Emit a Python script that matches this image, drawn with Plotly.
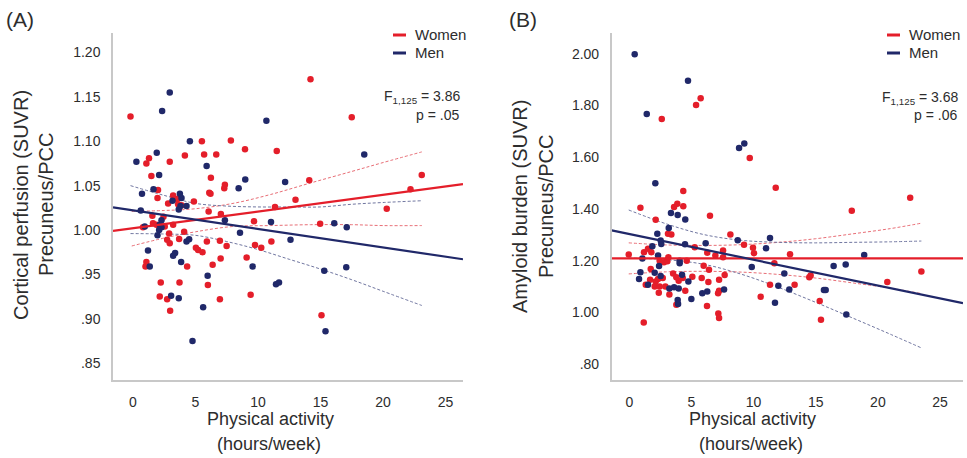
import plotly.graph_objects as go

W, H = 967, 458
RED = "rgb(228,30,42)"
NAVY = "rgb(32,40,105)"
RED_CI = "rgb(232,110,118)"
NAVY_CI = "rgb(112,118,160)"
FONT = "Arial, Liberation Sans, sans-serif"
TXT = "rgb(45,45,45)"

# ---------------- Panel A: Cortical perfusion ----------------
a_women_x = [-0.2, 5.51, 7.83, 8.96, 11.5, 1.28, 1.07, 2.94, 4.15, 5.69, 6.66, 1.47, 6.23, 7.35, 7.3,
             2.0, 1.96, 3.21, 3.53, 2.81, 3.61, 3.88, 4.87, 6.1, 6.2, 6.05, 7.03, 1.55, 2.44, 9.68, 11.36,
             1.6, 1.88, 2.54, 0.8, 3.21, 2.89, 4.09, 3.69, 2.73, 2.94, 5.91, 6.95, 7.49, 5.03, 5.21,
             5.56, 9.76, 10.26, 11.07, 9.09, 7.01, 6.37, 4.33, 1.07, 1.0, 5.99, 2.22, 3.72, 2.14, 2.73,
             6.95, 9.41, 2.97, 14.2, 17.5, 23.1, 14.1, 22.2, 13.0, 20.3, 14.97, 15.08]
a_women_y = [1.128, 1.100, 1.101, 1.091, 1.089, 1.081, 1.075, 1.077, 1.084, 1.085, 1.085, 1.061, 1.059, 1.051, 1.047,
             1.045, 1.036, 1.039, 1.035, 1.030, 1.029, 1.028, 1.032, 1.042, 1.041, 1.021, 1.018, 1.016, 1.015, 1.010, 1.026,
             1.0075, 1.006, 1.004, 1.003, 1.006, 0.996, 0.998, 0.990, 0.989, 0.985, 0.987, 0.988, 0.982, 0.980, 0.9775,
             0.975, 0.983, 0.980, 0.987, 0.969, 0.968, 0.961, 0.959, 0.964, 0.959, 0.938, 0.941, 0.941, 0.925, 0.922,
             0.922, 0.927, 0.909, 1.170, 1.127, 1.062, 1.056, 1.046, 1.034, 1.024, 1.007, 0.904]
a_men_x = [2.94, 2.33, 10.67, 4.55, 1.90, 0.27, 5.89, 2.09, 8.98, 8.45, 1.64, 0.72, 3.75, 3.88, 3.16, 3.8,
           4.28, 3.66, 0.62, 2.28, 11.04, 7.35, 2.14, 2.28, 2.09, 0.94, 1.96, 4.49, 4.28, 8.56, 1.2, 3.37,
           3.21, 3.85, 1.34, 9.57, 5.97, 11.44, 11.68, 3.05, 3.66, 5.61, 4.76, 18.5, 12.17, 16.1, 17.1,
           12.6, 15.3, 17.06, 15.4]
a_men_y = [1.155, 1.134, 1.123, 1.100, 1.087, 1.077, 1.072, 1.062, 1.057, 1.047, 1.046, 1.041, 1.041, 1.036, 1.033, 1.027,
           1.027, 1.023, 1.022, 1.011, 1.009, 1.011, 1.006, 1.003, 1.000, 1.004, 0.994, 0.9895, 0.987, 0.997, 0.977, 0.974,
           0.971, 0.964, 0.959, 0.959, 0.9485, 0.939, 0.941, 0.926, 0.923, 0.913, 0.875, 1.085, 1.054, 1.0075, 1.003,
           0.989, 0.954, 0.958, 0.886]
a_fit_women = [1.002, 0.00188]   # intercept, slope
a_fit_men = [1.0222, -0.00209]
a_ci_women_x = [-0.1, 2.5, 5, 8, 11, 14.2, 17.5, 20, 23.1]
a_ci_women_hi = [1.021, 1.022, 1.024, 1.030, 1.040, 1.053, 1.066, 1.076, 1.088]
a_ci_women_lo = [0.982, 0.991, 0.998, 1.004, 1.005, 1.006, 1.006, 1.005, 1.005]
a_ci_men_x = [-0.2, 2.5, 5, 7.5, 10, 12.5, 15, 17.5, 20, 23.1]
a_ci_men_hi = [1.050, 1.039, 1.030, 1.027, 1.026, 1.026, 1.026, 1.029, 1.031, 1.033]
a_ci_men_lo = [0.996, 0.9955, 0.994, 0.987, 0.978, 0.967, 0.956, 0.944, 0.931, 0.915]
a_yticks = [1.20, 1.15, 1.10, 1.05, 1.00, 0.95, 0.90, 0.85]
a_yticktext = ["1.20", "1.15", "1.10", "1.05", "1.00", ".95", ".90", ".85"]
a_xrange = [-1.6, 26.4]
a_yrange = [0.831, 1.222]

# ---------------- Panel B: Amyloid burden ----------------
b_women_x = [5.74, 5.37, 2.61, 9.69, 4.34, 11.78, 22.6, 17.9, 6.49, 0.89, 2.12, 3.6, 3.86, 4.34, 3.11, 3.38,
             8.13, 5.26, 6.27, 6.92, 7.54, 7.54, 9.23, 9.95, 10.03, -0.05, 1.18, 1.5, 1.77, 2.44, 2.79, 3.06,
             3.14, 4.62, 5.98, 6.41, 1.72, 3.52, 3.78, 3.97, 4.3, 5.07, 5.82, 7.67, 7.22, 6.36, 1.67, 2.12,
             2.31, 2.69, 1.32, 2.04, 2.44, 2.9, 2.37, 3.22, 4.5, 7.22, 7.14, 10.57, 3.78, 6.25, 7.16, 7.22,
             1.16, 12.93, 11.67, 23.5, 14.48, 14.59, 20.76, 13.3, 11.32, 15.32, 15.42]
b_women_y = [1.828, 1.802, 1.748, 1.597, 1.469, 1.482, 1.443, 1.393, 1.374, 1.405, 1.358, 1.408, 1.420, 1.410, 1.304, 1.301,
             1.301, 1.252, 1.231, 1.220, 1.239, 1.213, 1.262, 1.250, 1.229, 1.224, 1.233, 1.246, 1.233, 1.200, 1.194, 1.198,
             1.213, 1.200, 1.181, 1.165, 1.168, 1.151, 1.136, 1.123, 1.133, 1.138, 1.133, 1.145, 1.126, 1.118, 1.126, 1.120,
             1.129, 1.133, 1.107, 1.100, 1.100, 1.100, 1.076, 1.069, 1.084, 1.084, 1.074, 1.061, 1.030, 1.025, 0.996, 0.979,
             0.961, 1.225, 1.190, 1.158, 1.136, 1.143, 1.118, 1.107, 1.107, 1.044, 0.972]
b_men_x = [0.43, 4.72, 1.40, 9.25, 8.83, 2.09, 3.35, 3.89, 4.5, 3.17, 2.25, 8.72, 11.32, 2.52, 2.57, 4.48,
           6.14, 11.0, 1.05, 1.85, 2.31, 4.05, 4.05, 2.39, 9.85, 0.89, 2.04, 4.24, 2.52, 4.75, 0.78, 1.5,
           3.22, 3.6, 3.97, 6.27, 5.87, 7.62, 4.99, 3.89, 3.92, 11.72, 18.9, 16.44, 17.41, 12.47, 11.99,
           12.87, 15.66, 15.8, 17.46]
b_men_y = [1.998, 1.895, 1.767, 1.653, 1.636, 1.499, 1.384, 1.377, 1.359, 1.326, 1.304, 1.279, 1.288, 1.278, 1.265, 1.264,
           1.267, 1.248, 1.209, 1.256, 1.220, 1.200, 1.190, 1.180, 1.176, 1.155, 1.153, 1.146, 1.141, 1.120, 1.129, 1.107,
           1.093, 1.097, 1.093, 1.081, 1.074, 1.089, 1.052, 1.048, 1.033, 1.038, 1.222, 1.180, 1.185, 1.151, 1.103,
           1.089, 1.087, 1.087, 0.992]
b_fit_women = [1.209, 0.0]
b_fit_men = [1.303, -0.00994]
b_ci_women_x = [-0.05, 3, 6, 9, 12, 15, 18, 21, 23.5]
b_ci_women_hi = [1.269, 1.261, 1.259, 1.262, 1.271, 1.285, 1.304, 1.324, 1.345]
b_ci_women_lo = [1.149, 1.157, 1.159, 1.156, 1.147, 1.133, 1.114, 1.094, 1.073]
b_ci_men_x = [-0.05, 3, 6, 9, 12, 15, 18, 21, 23.5]
b_ci_men_hi = [1.396, 1.342, 1.301, 1.279, 1.271, 1.269, 1.271, 1.273, 1.276]
b_ci_men_lo = [1.210, 1.204, 1.186, 1.148, 1.097, 1.039, 0.978, 0.916, 0.863]
b_yticks = [2.00, 1.80, 1.60, 1.40, 1.20, 1.00, 0.80]
b_yticktext = ["2.00", "1.80", "1.60", "1.40", "1.20", "1.00", ".80"]
b_xrange = [-1.42, 26.85]
b_yrange = [0.739, 2.08]

xticks = [0, 5, 10, 15, 20, 25]
xticktext = ["0", "5", "10", "15", "20", "25"]

fig = go.Figure()


def add_panel(xa, ya, wx, wy, mx, my, fw, fm, ciw, cim, xr):
    xref, yref = xa, ya
    # CI dashed lines
    for cx, hi, lo, col in [(ciw[0], ciw[1], ciw[2], RED_CI), (cim[0], cim[1], cim[2], NAVY_CI)]:
        for arr in (hi, lo):
            fig.add_trace(go.Scatter(x=cx, y=arr, mode="lines", xaxis=xref, yaxis=yref,
                                     line=dict(color=col, width=1, dash="3px,2px", shape="spline"),
                                     showlegend=False, hoverinfo="skip"))
    # points
    fig.add_trace(go.Scatter(x=wx, y=wy, mode="markers", xaxis=xref, yaxis=yref,
                             marker=dict(color=RED, size=6.5), showlegend=False))
    fig.add_trace(go.Scatter(x=mx, y=my, mode="markers", xaxis=xref, yaxis=yref,
                             marker=dict(color=NAVY, size=6.5), showlegend=False))
    # fit lines across the axis range
    for f, col in [(fw, RED), (fm, NAVY)]:
        fig.add_trace(go.Scatter(x=xr, y=[f[0] + f[1] * v for v in xr], mode="lines",
                                 xaxis=xref, yaxis=yref, line=dict(color=col, width=2.2),
                                 showlegend=False, hoverinfo="skip"))


add_panel("x", "y", a_women_x, a_women_y, a_men_x, a_men_y, a_fit_women, a_fit_men,
          (a_ci_women_x, a_ci_women_hi, a_ci_women_lo), (a_ci_men_x, a_ci_men_hi, a_ci_men_lo), a_xrange)
add_panel("x2", "y2", b_women_x, b_women_y, b_men_x, b_men_y, b_fit_women, b_fit_men,
          (b_ci_women_x, b_ci_women_hi, b_ci_women_lo), (b_ci_men_x, b_ci_men_hi, b_ci_men_lo), b_xrange)

ydom = [1 - 380 / H, 1 - 33 / H]
axis_common = dict(showline=True, linecolor="rgb(200,200,200)", linewidth=1.5, showgrid=False,
                   zeroline=False, ticks="", tickfont=dict(family=FONT, size=14, color=TXT),
                   ticklabelstandoff=8)

fig.update_layout(
    width=W, height=H, margin=dict(l=0, r=0, t=0, b=0),
    paper_bgcolor="white", plot_bgcolor="white", showlegend=False,
    xaxis=dict(domain=[113 / W, 463 / W], range=a_xrange, tickvals=xticks, ticktext=xticktext,
               anchor="y", **axis_common),
    yaxis=dict(domain=ydom, range=a_yrange, tickvals=a_yticks, ticktext=a_yticktext,
               anchor="x", **axis_common),
    xaxis2=dict(domain=[611.7 / W, 963 / W], range=b_xrange, tickvals=xticks, ticktext=xticktext,
                anchor="y2", **axis_common),
    yaxis2=dict(domain=ydom, range=b_yrange, tickvals=b_yticks, ticktext=b_yticktext,
                anchor="x2", **axis_common),
)


def px(xp):
    return xp / W


def py(yp):
    return 1 - yp / H


anns = []


def txt(x, y, s, size, xanchor="center", angle=0):
    anns.append(dict(x=px(x), y=py(y), xref="paper", yref="paper", text=s, showarrow=False,
                     xanchor=xanchor, yanchor="middle", textangle=angle,
                     font=dict(family=FONT, size=size, color=TXT)))


# panel letters
txt(4, 20, "(A)", 21, "left")
txt(507, 20, "(B)", 21, "left")
# y titles
txt(21, 205, "Cortical perfusion (SUVR)", 20, angle=-90)
txt(46, 205, "Precuneus/PCC", 20, angle=-90)
txt(520, 207, "Amyloid burden (SUVR)", 20, angle=-90)
txt(546, 207, "Precuneus/PCC", 20, angle=-90)
# x titles
txt(270, 419, "Physical activity", 18)
txt(269, 444, "(hours/week)", 18)
txt(752, 419, "Physical activity", 18)
txt(751, 444, "(hours/week)", 18)
# stats
txt(463, 97, "F<sub>1,125</sub> = 3.86", 14, "right")
txt(461, 115, "p = .05", 14, "right")
txt(961, 98, "F<sub>1,125</sub> = 3.68", 14, "right")
txt(959, 115, "p = .06", 14, "right")
# legends
for lx in (393, 887):
    txt(lx + 20, 34, "Women", 15, "left")
    txt(lx + 20, 52, "Men", 15, "left")
fig.update_layout(annotations=anns)

shapes = []
for lx in (393, 887):
    for yy, col in ((35, RED), (53, NAVY)):
        shapes.append(dict(type="line", xref="paper", yref="paper", x0=px(lx), x1=px(lx + 13),
                           y0=py(yy), y1=py(yy), line=dict(color=col, width=3)))
fig.update_layout(shapes=shapes)

fig.write_html("out.html", config={"displayModeBar": False},
               post_script="document.body.style.margin='0';document.body.style.overflow='hidden';")
